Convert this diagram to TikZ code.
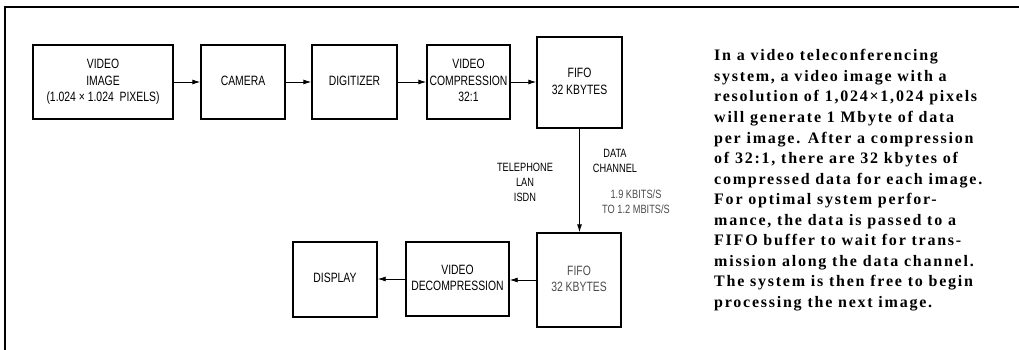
\documentclass[tikz,border=0pt]{standalone}
\usepackage{graphicx}
\usepackage{fontspec}
\setmainfont{Liberation Serif}
\newfontfamily\diag{Liberation Sans}
\newfontfamily\bodyfont[LetterSpace=11]{Liberation Serif Bold}
\usetikzlibrary{arrows.meta}
\newcommand\lbl[1]{\scalebox{0.77}[1]{\begin{tabular}{@{}c@{}}#1\end{tabular}}}
\tikzset{
  box/.style={draw, line width=1.4pt, inner sep=0pt,
    font=\diag\fontsize{13.5}{16.5}\selectfont},
  lab/.style={inner sep=0pt, font=\diag\fontsize{12}{15}\selectfont},
  arr/.style={-{Latex[length=8pt,width=5pt]}, line width=0.9pt},
  frame/.style={line width=1.4pt},
  bodyline/.style={anchor=base west, inner sep=0pt,
    font=\bodyfont\fontsize{16}{20.5}\selectfont}
}
\begin{document}
\begin{tikzpicture}[x=1pt,y=-1pt]
\useasboundingbox (0,0) rectangle (1019,350);
\draw[frame] (5,350) -- (5,7) -- (1019,7);
% top row
\node[box, minimum width=140pt, minimum height=74pt] (vi) at (103,82) {\lbl{VIDEO\\IMAGE\\(1.024 × 1.024 \ PIXELS)}};
\node[box, minimum width=84pt, minimum height=74pt] (cam) at (243,82) {\lbl{CAMERA}};
\node[box, minimum width=85pt, minimum height=74pt] (dig) at (354.5,82) {\lbl{DIGITIZER}};
\node[box, minimum width=83pt, minimum height=74pt] (vc) at (468.5,82) {\lbl{VIDEO\\COMPRESSION\\32:1}};
\node[box, minimum width=85pt, minimum height=91pt] (fifoa) at (579.5,82.5) {\lbl{FIFO\\32 KBYTES}};
% bottom row
\node[box, minimum width=84pt, minimum height=94pt, text=black!70] (fifob) at (579,280) {\lbl{FIFO\\32 KBYTES}};
\node[box, minimum width=103pt, minimum height=74pt] (dec) at (457.5,279) {\lbl{VIDEO\\DECOMPRESSION}};
\node[box, minimum width=84pt, minimum height=75pt] (disp) at (335,279.5) {\lbl{DISPLAY}};
% connectors
\draw[arr] (vi.east) -- (vi.east -| cam.west);
\draw[arr] (cam.east) -- (cam.east -| dig.west);
\draw[arr] (dig.east) -- (dig.east -| vc.west);
\draw[arr] (vc.east) -- (vc.east -| fifoa.west);
\draw[arr] (fifoa.south) -- (fifoa.south |- fifob.north);
\draw[arr] (fifob.west) -- (fifob.west -| dec.east);
\draw[arr] (dec.west) -- (dec.west -| disp.east);
% labels
\node[lab] (tel) at (525,183) {\lbl{TELEPHONE\\LAN\\ISDN}};
\node[lab] (dc) at (615,161.5) {\lbl{DATA\\CHANNEL}};
\node[lab, text=black!70] (rate) at (636,202.5) {\lbl{1.9 KBITS/S\\TO 1.2 MBITS/S}};
% caption text
\foreach \t [count=\i] in {{In a video teleconferencing},
  {system, a video image with a},
  {resolution of 1,024×1,024 pixels},
  {will generate 1 Mbyte of data},
  {per image. After a compression},
  {of 32:1, there are 32 kbytes of},
  {compressed data for each image.},
  {For optimal system perfor-},
  {mance, the data is passed to a},
  {FIFO buffer to wait for trans-},
  {mission along the data channel.},
  {The system is then free to begin},
  {processing the next image.}}
  \node[bodyline] (t\i) at (714,{61+(\i-1)*20.5}) {\t};
\end{tikzpicture}
\end{document}
